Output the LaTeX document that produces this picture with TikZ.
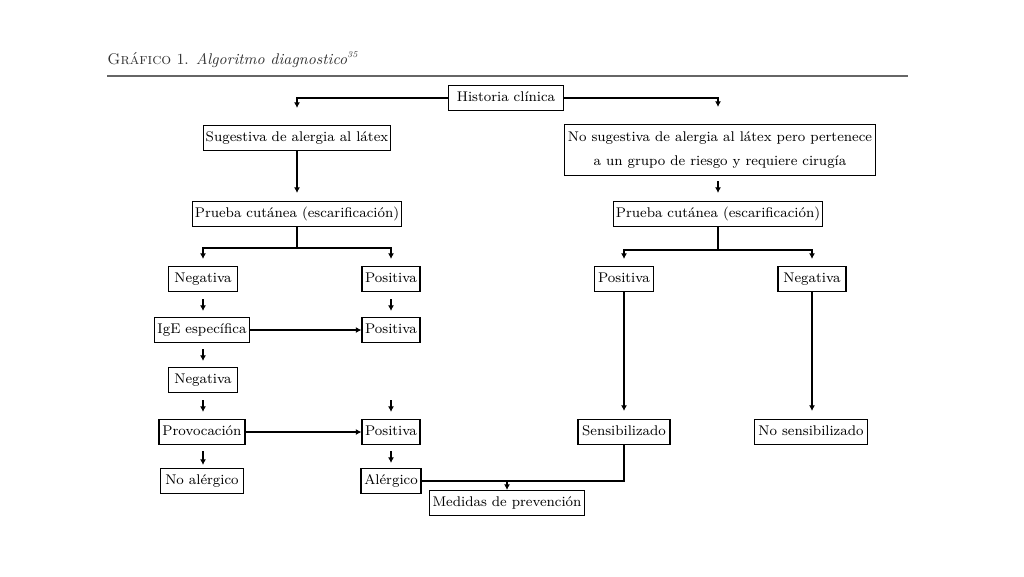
\documentclass[tikz,border=0pt]{standalone}
\usetikzlibrary{arrows.meta,calc}
\begin{document}
\begin{tikzpicture}[x=0.02cm,y=-0.02cm,
  box/.style={draw, line width=0.6pt, inner xsep=1.5pt, inner ysep=0pt,
    minimum height=0.5cm, text height=6pt, text depth=1.8pt,
    font=\fontsize{8}{9.6}\selectfont, text=black},
  conn/.style={line width=1.1pt, -{Latex[length=3.2pt,width=3.4pt]}},
  plain/.style={line width=1.1pt}]
\useasboundingbox (0,0) rectangle (1024,576);
% title
\node[anchor=base west, inner sep=0pt, text=black!80, font=\fontsize{8.8}{10.5}\selectfont] (title) at (107,64)
  {\textsc{Gráfico} 1. \textit{Algoritmo diagnostico}\textsuperscript{\itshape\tiny 35}};
\draw[black!60, line width=1.2pt] (107,76) -- (908,76);
% nodes
\node[box, minimum width=2.3cm] (hist) at (506,98) {Historia clínica};
\node[box, minimum width=3.66cm] (sug) at (297,138) {Sugestiva de alergia al látex};
\node[box, minimum width=6.22cm, minimum height=1.02cm, align=center, text height=, text depth=,
  font=\fontsize{8}{14}\selectfont] (nosug) at (720,150)
  {No sugestiva de alergia al látex pero pertenece\\a un grupo de riesgo y requiere cirugía};
\node[box, minimum width=3.94cm] (pruL) at (297,214) {Prueba cutánea (escarificación)};
\node[box, minimum width=4.1cm] (pruR) at (718,214) {Prueba cutánea (escarificación)};
\node[box, minimum width=1.38cm] (negL) at (203,279) {Negativa};
\node[box, minimum width=1.16cm] (posL) at (391,279) {Positiva};
\node[box, minimum width=1.9cm] (ige) at (202,330) {IgE específica};
\node[box, minimum width=1.16cm] (pos2) at (391,330) {Positiva};
\node[box, minimum width=1.38cm] (neg2) at (203,380) {Negativa};
\node[box, minimum width=1.72cm] (prov) at (202,432) {Provocación};
\node[box, minimum width=1.16cm] (pos3) at (391,432) {Positiva};
\node[box, minimum width=1.66cm] (noal) at (202,481) {No alérgico};
\node[box, minimum width=1.2cm] (alerg) at (391,481) {Alérgico};
\node[box, minimum width=3.0cm] (med) at (507,503) {Medidas de prevención};
\node[box, minimum width=1.18cm] (posR) at (624,279) {Positiva};
\node[box, minimum width=1.36cm] (negR) at (812,279) {Negativa};
\node[box, minimum width=1.84cm] (sens) at (624,432) {Sensibilizado};
\node[box, minimum width=2.26cm] (nosens) at (811,432) {No sensibilizado};
% helper coordinates
\coordinate (jL) at (297,248);
\coordinate (jR) at (718,250);
\coordinate (fa) at (391,400);
\coordinate (jm) at (507,481);
% connectors
\draw[conn, shorten >=0.34cm] (hist.west) -| (sug.north);
\draw[conn, shorten >=0.34cm] (hist.east) -| ($(nosug.north)+(-2,0)$);
\draw[conn, shorten >=0.16cm] (sug.south) -- (pruL.north);
\draw[conn, shorten <=0.1cm, shorten >=0.16cm] ($(nosug.south)+(-2,0)$) -- (pruR.north);
\draw[plain] (pruL.south) -- (jL);
\draw[conn, shorten >=0.14cm] (jL) -| (negL.north);
\draw[conn, shorten >=0.14cm] (jL) -| (posL.north);
\draw[plain] (pruR.south) -- (jR);
\draw[conn, shorten >=0.14cm] (jR) -| (posR.north);
\draw[conn, shorten >=0.14cm] (jR) -| (negR.north);
\draw[conn, shorten <=0.14cm, shorten >=0.12cm] (negL.south) -- (ige.north -| negL.south);
\draw[conn, shorten <=0.14cm, shorten >=0.12cm] (posL.south) -- (pos2.north);
\draw[conn] (ige.east) -- (pos2.west);
\draw[conn, shorten <=0.12cm, shorten >=0.12cm] (ige.south -| neg2.north) -- (neg2.north);
\draw[conn, shorten <=0.14cm, shorten >=0.14cm] (neg2.south) -- (prov.north -| neg2.south);
\draw[conn, shorten >=0.14cm] (fa) -- (pos3.north);
\draw[conn] (prov.east) -- (pos3.west);
\draw[conn, shorten <=0.12cm, shorten >=0.06cm] (prov.south -| neg2.south) -- (noal.north -| neg2.south);
\draw[conn, shorten <=0.12cm, shorten >=0.1cm] (pos3.south) -- (alerg.north);
\draw[plain] (alerg.east) -| (sens.south);
\draw[conn] (jm) -- (med.north);
\draw[conn, shorten >=0.16cm] (posR.south) -- (sens.north);
\draw[conn, shorten >=0.16cm] (negR.south) -- (nosens.north -| negR.south);
\end{tikzpicture}
\end{document}
